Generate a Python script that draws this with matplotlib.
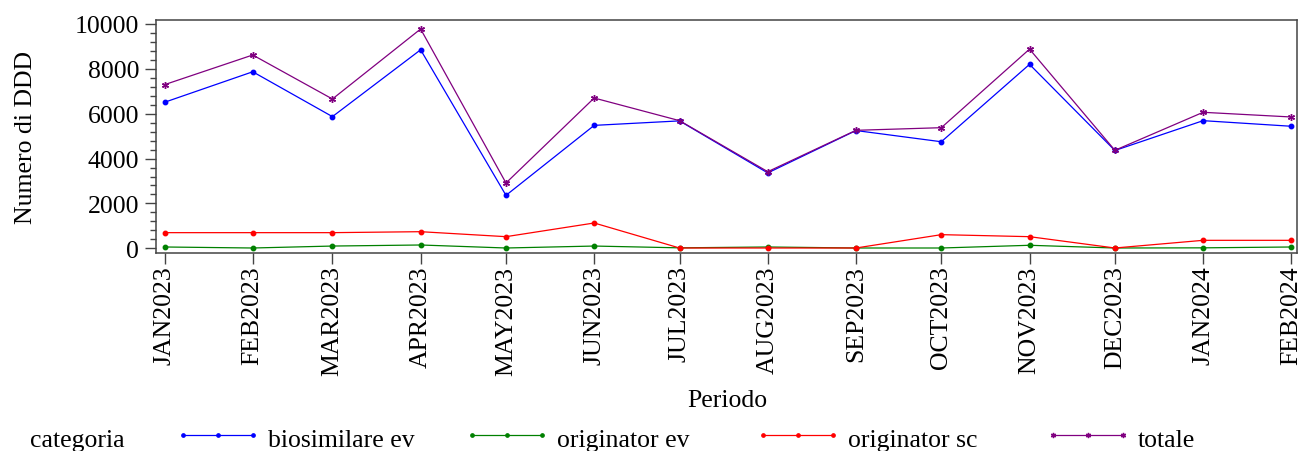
import datetime as dt
import matplotlib
matplotlib.use('Agg')
import matplotlib.pyplot as plt
from matplotlib.lines import Line2D
from matplotlib.ticker import MultipleLocator

plt.rcParams['font.family'] = ['Liberation Serif', 'DejaVu Serif']

# periods (first day of each month)
months = ['JAN2023', 'FEB2023', 'MAR2023', 'APR2023', 'MAY2023', 'JUN2023', 'JUL2023',
          'AUG2023', 'SEP2023', 'OCT2023', 'NOV2023', 'DEC2023', 'JAN2024', 'FEB2024']
dates = [dt.date(2023 + (i // 12), i % 12 + 1, 1) for i in range(len(months))]

biosimilare_ev = [6510, 7870, 5870, 8850, 2360, 5480, 5680, 3360, 5250, 4750, 8200, 4360, 5690, 5440]
originator_ev = [58, 13, 100, 147, 13, 100, 20, 58, 13, 13, 134, 13, 20, 58]
originator_sc = [697, 697, 697, 740, 518, 1128, 13, 13, 13, 608, 518, 13, 355, 355]
totale = [7295, 8618, 6656, 9777, 2911, 6700, 5690, 3415, 5260, 5377, 8880, 4369, 6063, 5854]

series = [
    ('biosimilare ev', biosimilare_ev, '#0000ff', 'o', 3.2),
    ('originator ev', originator_ev, '#008000', 'o', 3.2),
    ('originator sc', originator_sc, '#ff0000', 'o', 3.2),
    ('totale', totale, '#800080', (6, 2, 0), 5.0),
]

FS = 18.5
fig = plt.figure(figsize=(13.02, 4.52), dpi=100)
ax = fig.add_axes([156 / 1302, 1 - 254 / 452, (1297 - 156) / 1302, (254 - 21) / 452])

for name, vals, col, mk, ms in series:
    ax.plot(dates, vals, color=col, lw=0.9, marker=mk, ms=ms, mew=1.0, label=name)

ax.set_xlim(dt.date(2022, 12, 29) + dt.timedelta(days=0.65), dt.date(2024, 2, 3) + dt.timedelta(days=0.2))
ax.set_ylim(-210, 10178)
ax.set_xticks(dates)
ax.set_xticklabels(months, rotation=90, fontsize=FS)
ax.yaxis.set_major_locator(MultipleLocator(2000))
ax.yaxis.set_minor_locator(MultipleLocator(400))
ax.tick_params(axis='y', labelsize=FS, pad=4)
ax.tick_params(axis='x', pad=1)
ax.tick_params(which='major', length=8, width=1, color='#444444')
ax.tick_params(which='minor', length=4.5, width=1, color='#444444')
for s in ax.spines.values():
    s.set_color('#444444')
    s.set_linewidth(1.1)

ax.set_ylabel('Numero di DDD', fontsize=FS, labelpad=27)
fig.text(727 / 1302, 1 - 401 / 452, 'Periodo', fontsize=FS, ha='center', va='center')

# legend drawn along the bottom
ly = 1 - 441 / 452
lh = 1 - 436 / 452
fig.text(30 / 1302, ly, 'categoria', fontsize=FS, ha='left', va='center')
hx = [183, 472, 763, 1053]
for (name, vals, col, mk, ms), x0 in zip(series, hx):
    xs = [x0 / 1302, (x0 + 35) / 1302, (x0 + 70) / 1302]
    fig.add_artist(Line2D(xs, [lh] * 3, color=col, lw=0.9, marker=mk, ms=ms * 0.75, mew=1.0,
                          transform=fig.transFigure))
    fig.text((x0 + 85) / 1302, ly, name, fontsize=FS, ha='left', va='center')

fig.savefig('out.png', dpi=100)
